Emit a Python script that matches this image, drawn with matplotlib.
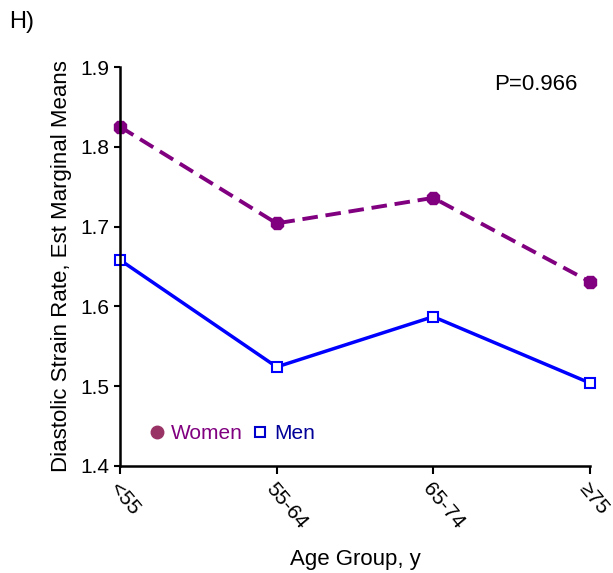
import numpy as np
import matplotlib.pyplot as plt
from matplotlib.lines import Line2D

plt.rcParams['font.family'] = ['Liberation Sans', 'DejaVu Sans']

age_groups = ['<55', '55-64', '65-74', '\u226575']
women = [1.825, 1.704, 1.736, 1.631]
men = [1.658, 1.524, 1.587, 1.504]

women_color = '#800080'
men_color = '#0000FF'

fig = plt.figure(figsize=(6.13, 5.73), dpi=100)
ax = fig.add_axes([0.196, 0.187, 0.766, 0.696])

x = np.arange(len(age_groups))
ax.plot(x, women, color=women_color, linestyle=(0, (4, 2)), linewidth=2.8,
        marker='8', markersize=10, markerfacecolor=women_color, clip_on=False)
ax.plot(x, men, color=men_color, linestyle='-', linewidth=2.5,
        marker='s', markersize=7, markerfacecolor='white', markeredgewidth=1.5,
        clip_on=False)

ax.set_xlim(0, 3)
ax.set_ylim(1.4, 1.9)
ax.set_yticks([1.4, 1.5, 1.6, 1.7, 1.8, 1.9])
ax.set_xticks(x)
ax.set_xticklabels(age_groups, rotation=-50, ha='left', va='top',
                   rotation_mode='anchor', fontsize=15)
ax.tick_params(axis='y', labelsize=15, length=4, width=1.5)
ax.tick_params(axis='x', length=6, width=1.5)
for s in ['top', 'right']:
    ax.spines[s].set_visible(False)
for s in ['left', 'bottom']:
    ax.spines[s].set_linewidth(1.8)

ax.set_ylabel('Diastolic Strain Rate, Est Marginal Means', fontsize=16,
              labelpad=6)
ax.set_xlabel('Age Group, y', fontsize=16, labelpad=12)

handles = [
    Line2D([], [], linestyle='none', marker='o', markersize=9,
           color='#993366'),
    Line2D([], [], linestyle='none', marker='s', markersize=7,
           markerfacecolor='white', markeredgecolor='#0000CC',
           markeredgewidth=1.5),
]
ax.legend(handles, ['Women', 'Men'], loc='lower left',
          bbox_to_anchor=(0.02, 0.01), ncol=2, frameon=False, fontsize=15,
          handlelength=0.8, handletextpad=0.3, columnspacing=0.4,
          labelcolor=[women_color, '#000099'])

ax.text(0.975, 0.955, 'P=0.966', transform=ax.transAxes, fontsize=16,
        ha='right', va='center')
fig.text(0.015, 0.962, 'H)', fontsize=17, ha='left', va='center')

fig.savefig('out.png', dpi=100)
